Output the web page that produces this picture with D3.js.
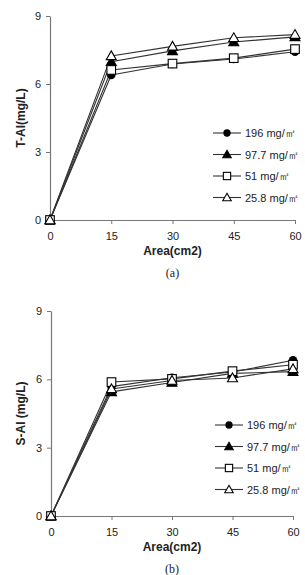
<!DOCTYPE html>
<html>
<head>
<meta charset="utf-8">
<script src="https://cdn.jsdelivr.net/npm/d3@7"></script>
<style>
  body { margin: 0; background: #fff; }
  text { font-family: "Liberation Sans", Arial, sans-serif; }
</style>
</head>
<body>
<div id="chart"></div>
<script>
const areas = [0, 15, 30, 45, 60]
const seriesNames = ["196 mg/\u33A1", "97.7 mg/\u33A1", "51 mg/\u33A1", "25.8 mg/\u33A1"]
const seriesMarks = ["circle", "triangleFilled", "square", "triangleOpen"]
const yTicks = [0, 3, 6, 9]
const xTicks = [0, 15, 30, 45, 60]

// (a) T-Al
const tAl196 = [0, 6.4, 6.88, 7.1, 7.42]
const tAl977 = [0, 6.98, 7.46, 7.85, 8.08]
const tAl51 = [0, 6.62, 6.9, 7.14, 7.54]
const tAl258 = [0, 7.24, 7.66, 8.04, 8.18]

// (b) S-Al
const sAl196 = [0, 5.68, 6.07, 6.32, 6.84]
const sAl977 = [0, 5.45, 5.86, 6.26, 6.34]
const sAl51 = [0, 5.88, 6.02, 6.36, 6.64]
const sAl258 = [0, 5.58, 5.95, 6.06, 6.46]

const svg = d3.select("#chart").append("svg")
  .attr("width", 305)
  .attr("height", 575)

function drawPanel(opts) {
  const x = d3.scaleLinear().domain([0, 60]).range([opts.left, opts.right])
  const y = d3.scaleLinear().domain([0, 9]).range([opts.bottom, opts.top])
  const g = svg.append("g")

  const xAxis = g.append("g")
    .attr("transform", `translate(0, ${opts.bottom})`)
    .call(d3.axisBottom(x).tickValues(xTicks).tickSize(4).tickSizeOuter(0))
  const yAxis = g.append("g")
    .attr("transform", `translate(${opts.left}, 0)`)
    .call(d3.axisLeft(y).tickValues(yTicks).tickSize(4).tickSizeOuter(0))

  ;[xAxis, yAxis].forEach(a => {
    a.select(".domain").attr("stroke", "#777").attr("stroke-width", 1.2)
    a.selectAll(".tick line").attr("stroke", "#777")
    a.selectAll(".tick text")
      .style("font-family", "'Liberation Sans', Arial, sans-serif")
      .style("font-size", "11px")
      .attr("fill", "#222")
  })
  xAxis.selectAll(".tick text").attr("dy", "1.2em")
  yAxis.selectAll(".tick text").attr("x", -9)

  g.append("text")
    .attr("x", (opts.left + opts.right) / 2)
    .attr("y", opts.bottom + 35)
    .attr("text-anchor", "middle")
    .style("font-size", "12px")
    .style("font-weight", "bold")
    .attr("fill", "#222")
    .text("Area(cm2)")

  g.append("text")
    .attr("transform", `translate(${opts.yLabelX}, ${(opts.top + opts.bottom) / 2}) rotate(-90)`)
    .attr("text-anchor", "middle")
    .style("font-size", "12px")
    .style("font-weight", "bold")
    .attr("fill", "#222")
    .text(opts.yLabel)

  g.append("text")
    .attr("x", (opts.left + opts.right) / 2)
    .attr("y", opts.bottom + 57)
    .attr("text-anchor", "middle")
    .style("font-family", "'Liberation Serif', 'Times New Roman', serif")
    .style("font-size", "12px")
    .attr("fill", "#222")
    .text(opts.caption)

  const line = d3.line()
    .x((d, i) => x(areas[i]))
    .y(d => y(d))

  opts.series.forEach(s => {
    g.append("path")
      .datum(s)
      .attr("fill", "none")
      .attr("stroke", "#333")
      .attr("stroke-width", 1.1)
      .attr("d", line)
  })

  opts.series.forEach((s, k) => {
    s.forEach((v, i) => drawMarker(g, seriesMarks[k], x(areas[i]), y(v), 1))
  })

  // legend
  seriesNames.forEach((name, k) => {
    const ly = opts.legendTop + k * 21.5
    g.append("line")
      .attr("x1", opts.legendX).attr("x2", opts.legendX + 28)
      .attr("y1", ly).attr("y2", ly)
      .attr("stroke", "#333").attr("stroke-width", 1.1)
    drawMarker(g, seriesMarks[k], opts.legendX + 14, ly, 0.85)
    g.append("text")
      .attr("x", opts.legendX + 32)
      .attr("y", ly + 4)
      .style("font-size", "11px")
      .attr("fill", "#222")
      .text(name)
  })
}

function drawMarker(g, kind, cx, cy, s) {
  const r = 4.3 * s
  if (kind === "circle") {
    g.append("circle").attr("cx", cx).attr("cy", cy).attr("r", r)
      .attr("fill", "#000")
  } else if (kind === "square") {
    g.append("rect").attr("x", cx - r).attr("y", cy - r)
      .attr("width", 2 * r).attr("height", 2 * r)
      .attr("fill", "#fff").attr("stroke", "#000").attr("stroke-width", 1.1)
  } else {
    const h = 5 * s
    g.append("path")
      .attr("d", `M${cx},${cy - h} L${cx + h},${cy + h * 0.75} L${cx - h},${cy + h * 0.75} Z`)
      .attr("fill", kind === "triangleFilled" ? "#000" : "#fff")
      .attr("stroke", "#000").attr("stroke-width", 1.1)
  }
}

drawPanel({
  left: 50, right: 295, top: 16, bottom: 220,
  yLabel: "T-Al(mg/L)", yLabelX: 25, caption: "(a)",
  series: [tAl196, tAl977, tAl51, tAl258],
  legendTop: 133, legendX: 213
})

drawPanel({
  left: 51, right: 293, top: 311, bottom: 516,
  yLabel: "S-Al (mg/L)", yLabelX: 25, caption: "(b)",
  series: [sAl196, sAl977, sAl51, sAl258],
  legendTop: 425, legendX: 215
})
</script>
</body>
</html>
